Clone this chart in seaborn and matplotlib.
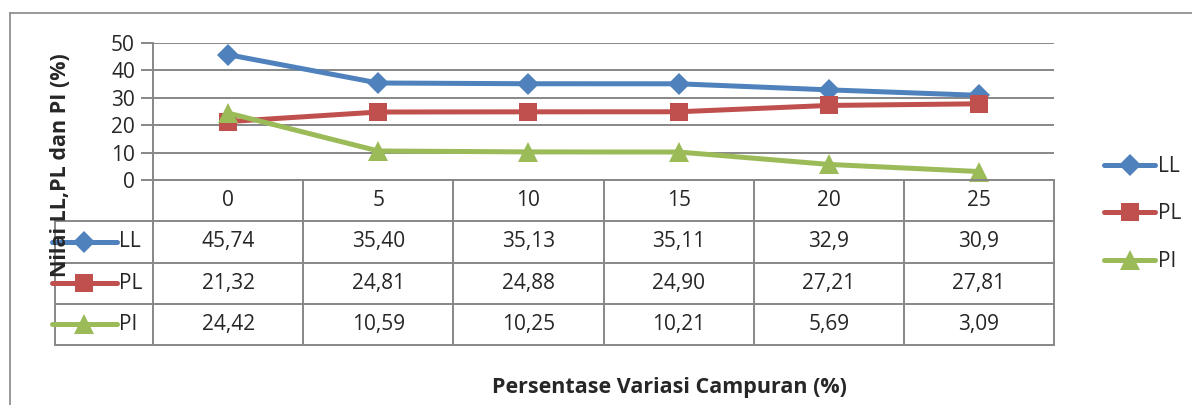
import matplotlib
matplotlib.use("Agg")
import matplotlib.pyplot as plt
from matplotlib.lines import Line2D
import seaborn as sns
import pandas as pd

# Data
variasi = ["0", "5", "10", "15", "20", "25"]
ll = [45.74, 35.40, 35.13, 35.11, 32.9, 30.9]
pl = [21.32, 24.81, 24.88, 24.90, 27.21, 27.81]
pi = [24.42, 10.59, 10.25, 10.21, 5.69, 3.09]
ll_text = ["45,74", "35,40", "35,13", "35,11", "32,9", "30,9"]
pl_text = ["21,32", "24,81", "24,88", "24,90", "27,21", "27,81"]
pi_text = ["24,42", "10,59", "10,25", "10,21", "5,69", "3,09"]
y_ticks = [0, 10, 20, 30, 40, 50]

sns.set_theme(style="white")
plt.rcParams["font.family"] = ["Open Sans", "DejaVu Sans"]

W, H = 1192, 405
fig = plt.figure(figsize=(W / 100, H / 100), dpi=100)

def fx(px):
    return px / W

def fy(py):
    return 1 - py / H

grid_c = "#878787"
colors = {"LL": "#4F81BD", "PL": "#C0504D", "PI": "#9BBB59"}
markers = {"LL": "D", "PL": "s", "PI": "^"}
msize = {"LL": 11, "PL": 13, "PI": 14}
FS = 15
FS_T = 15
FS_B = 15.5

left, right, top, zero, tbot = 153, 1054, 43, 180, 345

df = pd.DataFrame({
    "x": list(range(len(variasi))) * 3,
    "nilai": ll + pl + pi,
    "seri": ["LL"] * 6 + ["PL"] * 6 + ["PI"] * 6,
})

ax = fig.add_axes([fx(left), fy(zero), fx(right - left), (zero - top) / H])
for name in ["LL", "PL", "PI"]:
    sub = df[df["seri"] == name]
    sns.lineplot(data=sub, x="x", y="nilai", ax=ax, color=colors[name],
                 linewidth=3.6, marker=markers[name], markersize=msize[name],
                 markeredgewidth=0, label=name, legend=False, clip_on=False, zorder=3)
ax.set_xlim(-0.5, len(variasi) - 0.5)
ax.set_ylim(0, 50)
ax.set_yticks(y_ticks)
ax.set_yticklabels([str(t) for t in y_ticks], fontsize=FS)
ax.set_xticks([])
ax.set_xlabel("")
ax.set_ylabel("")
ax.yaxis.grid(True, color=grid_c, linewidth=1.4)
ax.set_axisbelow(True)
for s in ["top", "right", "bottom"]:
    ax.spines[s].set_visible(False)
ax.spines["left"].set_color(grid_c)
ax.spines["left"].set_linewidth(1.4)
ax.tick_params(axis="y", length=9, width=1.4, color=grid_c, pad=4, left=True)

# Data table below the plot
tax = fig.add_axes([fx(left), fy(tbot), fx(right - left), (tbot - zero) / H])
tax.set_xlim(-0.5, len(variasi) - 0.5)
tax.set_ylim(4, 0)
tax.axis("off")
key_left = -0.5 - (left - 55) / 150
lw = 1.4
# horizontal rules
tax.plot([-0.5, 5.5], [0, 0], color=grid_c, lw=lw, clip_on=False)
for r in [1, 2, 3, 4]:
    tax.plot([key_left, 5.5], [r, r], color=grid_c, lw=lw, clip_on=False)
# vertical rules
for c in range(len(variasi) + 1):
    tax.plot([c - 0.5, c - 0.5], [0, 4], color=grid_c, lw=lw, clip_on=False)
tax.plot([key_left, key_left], [1, 4], color=grid_c, lw=lw, clip_on=False)

for i, v in enumerate(variasi):
    tax.text(i, 0.5, v, ha="center", va="center", fontsize=FS_T)
rows = [("LL", ll_text), ("PL", pl_text), ("PI", pi_text)]
for r, (name, texts) in enumerate(rows, start=1):
    for i, t in enumerate(texts):
        tax.text(i, r + 0.5, t, ha="center", va="center", fontsize=FS_T)
    kx0 = -0.5 - (left - 52) / 150
    kx1 = -0.5 - (left - 117) / 150
    tax.plot([kx0, kx1], [r + 0.5, r + 0.5], color=colors[name], lw=3.6,
             solid_capstyle="round", clip_on=False)
    tax.plot([(kx0 + kx1) / 2], [r + 0.5], marker=markers[name], color=colors[name],
             markersize=msize[name], markeredgewidth=0, clip_on=False)
    tax.text(kx1 + 0.015, r + 0.5, name, ha="left", va="center", fontsize=FS_T)

# Legend on the right
handles = [Line2D([0], [0], color=colors[n], lw=3.6, marker=markers[n],
                  markersize=msize[n], markeredgewidth=0, solid_capstyle="round")
           for n in ["LL", "PL", "PI"]]
fig.legend(handles, ["LL", "PL", "PI"], loc="center left",
           bbox_to_anchor=(fx(1094), fy(214)), frameon=False, fontsize=FS,
           handlelength=2.45, handletextpad=0.1, labelspacing=1.27, borderpad=0)

# Axis titles
fig.text(fx(61), fy(165), "Nilai LL,PL dan PI (%)", rotation=90, ha="center",
         va="center", fontsize=FS_B, fontweight="bold")
fig.text(fx(669), fy(387), "Persentase Variasi Campuran (%)", ha="center",
         va="center", fontsize=FS_B, fontweight="bold")

# Chart area border
fig.add_artist(Line2D([fx(10), fx(10)], [fy(13), 0], color=grid_c, lw=1.2))
fig.add_artist(Line2D([fx(10), 1], [fy(13), fy(13)], color=grid_c, lw=1.2))

fig.savefig("out.png", dpi=100)
